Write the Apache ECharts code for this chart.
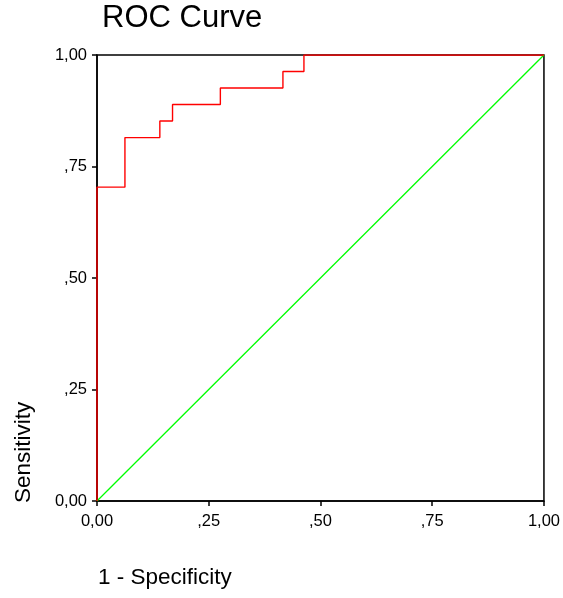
<!DOCTYPE html>
<html>
<head>
<meta charset="utf-8">
<script src="https://cdn.jsdelivr.net/npm/echarts@6/dist/echarts.min.js"></script>
<style>
  html, body { margin: 0; padding: 0; background: #fff; }
  #rocchart { width: 563px; height: 598px; }
</style>
</head>
<body>
<div id="rocchart"></div>
<script>
// ROC points (1 - specificity, sensitivity)
var fpr = [0, 0, 0.0625, 0.1406, 0.169, 0.276, 0.416, 0.463, 1];
var tpr = [0, 0.7037, 0.8148, 0.8519, 0.8889, 0.9259, 0.963, 1, 1];
// reference diagonal
var refX = [0, 1];
var refY = [0, 1];

function tickLabel(v) {
    // SPSS style: 0,00  ,25  ,50  ,75  1,00
    var s = v.toFixed(2).replace('.', ',');
    if (v > 0 && v < 1) s = s.substring(1);
    return s;
}

const rocChart = echarts.init(document.getElementById('rocchart'));
var option;
option = {
    animation: false,
    textStyle: { fontFamily: 'Liberation Sans, Arial, sans-serif' },
    title: {
        text: 'ROC Curve',
        left: 97,
        top: -2,
        textStyle: { color: '#000', fontSize: 31, fontWeight: 'normal' }
    },
    grid: {
        left: 97, right: 18, top: 55, bottom: 97,
        show: true,
        borderColor: '#000',
        borderWidth: 1.5,
        backgroundColor: 'transparent'
    },
    xAxis: {
        type: 'value',
        min: 0, max: 1, interval: 0.25,
        axisLine: { lineStyle: { color: '#000', width: 1.5 } },
        axisTick: { show: true, length: 5, lineStyle: { color: '#000', width: 1.5 } },
        axisLabel: {
            color: '#000', fontSize: 16.5, margin: 12,
            formatter: tickLabel
        },
        splitLine: { show: false }
    },
    yAxis: {
        type: 'value',
        min: 0, max: 1, interval: 0.25,
        axisLine: { lineStyle: { color: '#000', width: 1.5 } },
        axisTick: { show: true, length: 5, lineStyle: { color: '#000', width: 1.5 } },
        axisLabel: {
            color: '#000', fontSize: 16.5, margin: 10,
            formatter: tickLabel
        },
        splitLine: { show: false }
    },
    graphic: [
        {
            type: 'text',
            left: 98, top: 566,
            style: { text: '1 - Specificity', fill: '#000', fontSize: 22.5, fontFamily: 'Liberation Sans, Arial, sans-serif' }
        },
        {
            type: 'text',
            x: 12, y: 503,
            rotation: Math.PI / 2,
            style: { text: 'Sensitivity', fill: '#000', fontSize: 22.5, fontFamily: 'Liberation Sans, Arial, sans-serif', textAlign: 'left', textVerticalAlign: 'top' }
        }
    ],
    series: [
        {
            type: 'line',
            data: refX.map(function (x, i) { return [x, refY[i]]; }),
            symbol: 'none',
            lineStyle: { color: '#00ff00', width: 1.3 },
            z: 3
        },
        {
            type: 'line',
            step: 'end',
            data: fpr.map(function (x, i) { return [x, tpr[i]]; }),
            symbol: 'none',
            lineStyle: { color: '#ff0000', width: 1.4 },
            z: 4
        }
    ]
};
option && rocChart.setOption(option);
</script>
</body>
</html>
